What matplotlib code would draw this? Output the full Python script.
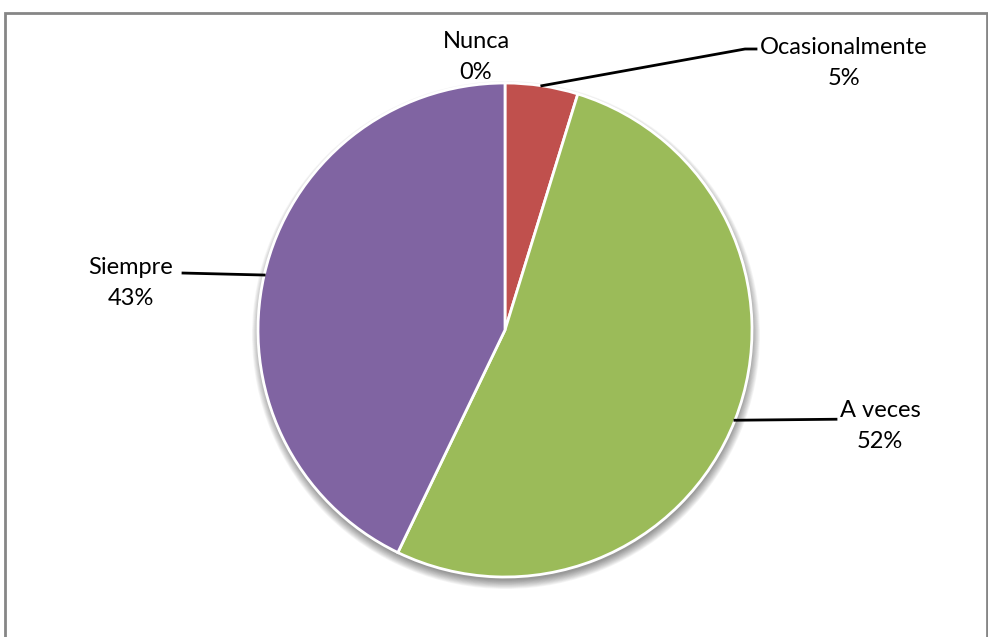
import numpy as np
import matplotlib.pyplot as plt
from matplotlib.patches import Circle, Rectangle

# Survey answers (counts of respondents)
categories = ["Nunca", "Ocasionalmente", "A veces", "Siempre"]
counts = [0, 2, 22, 18]
colors = ["#4F81BD", "#C0504D", "#9BBB59", "#8064A2"]

# Label placement (pixel space, origin bottom-left)
label_pos = {
    "Nunca": (476, 580),
    "Ocasionalmente": (844, 574),
    "A veces": (880, 211),
    "Siempre": (131, 354),
}
W, H = 988, 637
cx, cy, r = 505, H - 330, 247

plt.rcParams['font.family'] = ['Lato', 'DejaVu Sans']

fig = plt.figure(figsize=(W / 100, H / 100), dpi=100)
ax = fig.add_axes([0, 0, 1, 1])

# chart frame (runs off the right and bottom edge)
ax.add_patch(Rectangle((5, -20), 982, H - 13 + 20, fill=False,
                       edgecolor="#868686", linewidth=2, zorder=0))

# soft drop shadow under the pie
for i in range(12):
    ax.add_patch(Circle((cx + 1, cy - 5), r + 7 - i * 0.8, color="black",
                        alpha=0.04, linewidth=0, zorder=1))

wedges, _ = ax.pie(counts, colors=colors, startangle=90, counterclock=False,
                   center=(cx, cy), radius=r, frame=True,
                   wedgeprops=dict(edgecolor="white", linewidth=2))
for w in wedges:
    w.set_zorder(2)
ax.set_xlim(0, W)
ax.set_ylim(0, H)
ax.set_aspect('equal')
ax.axis('off')

total = sum(counts)
for w, name, n in zip(wedges, categories, counts):
    pct = round(100 * n / total)
    tx, ty = label_pos[name]
    ax.text(tx, ty, f"{name}\n{pct}%", ha="center", va="center",
            fontsize=17, linespacing=1.6, color="black", zorder=4)
    if n == 0:
        continue
    mid = np.deg2rad((w.theta1 + w.theta2) / 2)
    px, py = cx + r * np.cos(mid), cy + r * np.sin(mid)
    if name == "Ocasionalmente":
        xs, ys = [px, 745, 756], [py, ty + 14, ty + 14]
    elif name == "Siempre":
        xs, ys = [px, 183], [py, py + 2]
    else:
        xs, ys = [px, 836], [py, py + 1]
    ax.plot(xs, ys, color="black", linewidth=2, zorder=3)

fig.savefig("out.png", dpi=100)
